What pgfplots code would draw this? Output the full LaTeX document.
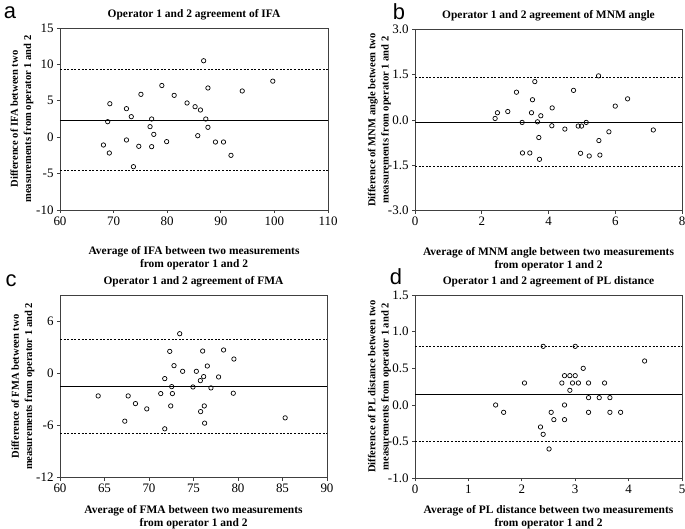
\documentclass[border=0pt]{standalone}
\usepackage{fontspec}
\setmainfont{Liberation Serif}
\newfontfamily\panelfont{Liberation Sans}
\usepackage{pgfplots}
\pgfplotsset{compat=1.18}

\pgfplotsset{
  ba/.style={
    scale only axis, clip=false,
    axis line style={draw=black!75, line width=0.9bp},
    tick align=outside, xtick pos=bottom, ytick pos=left,
    major tick length=3bp,
    tick style={draw=black!75, line width=0.8bp},
    ticklabel style={font=\fontsize{13}{13}\selectfont},
    /pgf/number format/assume math mode=true,
    title style={font=\bfseries\fontsize{11.5}{13}\selectfont, at={(0.5,1)}, anchor=base, yshift=4.5bp},
    xlabel style={font=\bfseries\fontsize{11.5}{12.8}\selectfont, align=center, at={(0.5,0)}, anchor=north},
    ylabel style={font=\bfseries\fontsize{10.6}{13.3}\selectfont, align=center, anchor=center},
  },
  pts/.style={only marks, mark=o, mark size=2.2bp, mark options={line width=0.7bp, draw=black}},
  mean/.style={black, line width=0.9bp},
  loa/.style={black, line width=0.8bp, dash pattern=on 2bp off 1.6bp},
}

\begin{document}
\begin{tikzpicture}
\path[use as bounding box] (0,0) rectangle (685bp,-529bp);

% a
\begin{axis}[ba, at={(60bp,-28bp)}, anchor=north west, width=268bp, height=182bp,
  xmin=60, xmax=110, ymin=-10, ymax=15, xtick={60,70,...,110}, ytick={-10,-5,0,5,10,15},
  yticklabels={-10,-5,0,5,10,15},
  title={Operator 1 and 2 agreement of IFA},
  xlabel={Average of IFA between two measurements\\from operator 1 and 2},
  xlabel style={yshift=-33bp},
  ylabel={Difference of IFA between two\\measurements from operator 1 and 2},
  ylabel style={at={(-0.142,0.5)}}]
\addplot[mean] coordinates {(60,2.3) (110,2.3)};
\addplot[loa] coordinates {(60,9.25) (110,9.25)};
\addplot[loa] coordinates {(60,-4.6) (110,-4.6)};
\addplot[pts] coordinates {
(86.8,10.5) (99.7,7.7) (79.0,7.1) (87.6,6.76) (94.0,6.35) (75.1,5.89)
(81.3,5.75) (69.3,4.6) (83.7,4.7) (85.2,4.19) (86.2,3.74) (72.4,3.92)
(73.3,2.82) (77.1,2.5) (87.2,2.5) (68.9,2.13) (76.8,1.45) (87.6,1.36)
(77.5,0.39) (85.7,0.21) (68.1,-1.07) (72.4,-0.38) (74.7,-1.25) (77.1,-1.3)
(79.9,-0.61) (89.0,-0.66) (90.5,-0.66) (69.2,-2.17) (91.9,-2.49) (73.7,-4.05)};
\end{axis}

% b
\begin{axis}[ba, at={(415bp,-29.3bp)}, anchor=north west, width=267bp, height=181.4bp,
  xmin=0, xmax=8, ymin=-3, ymax=3, xtick={0,2,...,8}, ytick={-3,-1.5,0,1.5,3},
  yticklabels={-3.0,-1.5,0.0,1.5,3.0},
  title={Operator 1 and 2 agreement of MNM angle},
  xlabel={Average of MNM angle between two measurements\\from operator 1 and 2},
  xlabel style={yshift=-33bp},
  ylabel={Difference of MNM angle between two\\measurements from operator 1 and 2},
  ylabel style={at={(-0.133,0.5)}}]
\addplot[mean] coordinates {(0,-0.07) (8,-0.07)};
\addplot[loa] coordinates {(0,1.41) (8,1.41)};
\addplot[loa] coordinates {(0,-1.55) (8,-1.55)};
\addplot[pts] coordinates {
(5.50,1.46) (3.59,1.27) (4.75,0.98) (6.37,0.70) (3.52,0.67) (6.00,0.46)
(4.11,0.40) (3.49,0.24) (3.77,0.14) (3.21,-0.08) (3.67,-0.06) (4.10,-0.19)
(4.49,-0.30) (4.89,-0.20) (4.99,-0.20) (5.13,-0.08) (5.81,-0.39) (3.71,-0.58)
(5.51,-0.68) (3.22,-1.09) (3.44,-1.09) (4.96,-1.10) (5.22,-1.19) (5.54,-1.16)
(3.73,-1.30) (2.40,0.05) (2.47,0.24) (2.78,0.28) (3.04,0.92) (7.14,-0.33)};
\end{axis}

% c
\begin{axis}[ba, at={(60bp,-295bp)}, anchor=north west, width=267bp, height=182.7bp,
  xmin=60, xmax=90, ymin=-12, ymax=9, xtick={60,65,...,90}, ytick={-12,-6,0,6},
  yticklabels={-12,-6,0,6},
  title={Operator 1 and 2 agreement of FMA},
  xlabel={Average of FMA between two measurements\\from operator 1 and 2},
  xlabel style={yshift=-24bp},
  ylabel={Difference of FMA between two\\measurements from operator 1 and 2},
  ylabel style={at={(-0.139,0.5)}}]
\addplot[mean] coordinates {(60,-1.5) (90,-1.5)};
\addplot[loa] coordinates {(60,3.94) (90,3.94)};
\addplot[loa] coordinates {(60,-6.92) (90,-6.92)};
\addplot[pts] coordinates {
(73.45,4.55) (72.33,2.52) (76.03,2.56) (78.38,2.68) (79.54,1.64) (72.81,0.88)
(76.55,0.84) (73.78,0.23) (75.32,0.23) (71.77,-0.61) (76.14,-0.38) (77.82,-0.42)
(75.77,-0.84) (72.55,-1.53) (74.94,-1.57) (76.96,-1.68) (64.29,-2.6) (67.66,-2.6)
(71.32,-2.33) (72.63,-2.33) (79.47,-2.29) (68.48,-3.48) (69.75,-4.09) (72.44,-3.75)
(76.21,-3.75) (75.8,-4.4) (67.28,-5.5) (76.25,-5.73) (85.3,-5.12) (71.77,-6.38)};
\end{axis}

% d
\begin{axis}[ba, at={(415bp,-295bp)}, anchor=north west, width=267bp, height=183.3bp,
  xmin=0, xmax=5, ymin=-1, ymax=1.5, xtick={0,1,...,5}, ytick={-1,-0.5,0,0.5,1,1.5},
  yticklabels={-1.0,-0.5,0.0,0.5,1.0,1.5},
  title={Operator 1 and 2 agreement of PL distance},
  xlabel={Average of PL distance between two measurements\\from operator 1 and 2},
  xlabel style={yshift=-24bp},
  ylabel={Difference of PL distance between two\\measurements from operator 1 and 2},
  ylabel style={at={(-0.133,0.5)}}]
\addplot[mean] coordinates {(0,0.15) (5,0.15)};
\addplot[loa] coordinates {(0,0.80) (5,0.80)};
\addplot[loa] coordinates {(0,-0.50) (5,-0.50)};
\addplot[pts] coordinates {
(1.51,0.0) (1.66,-0.1) (2.05,0.3) (2.35,-0.3) (2.40,0.8) (2.40,-0.4)
(2.51,-0.6) (2.55,-0.1) (2.60,-0.2) (2.75,0.3) (2.80,0.4) (2.80,0.0)
(2.80,-0.2) (2.90,0.4) (2.90,0.2) (2.95,0.3) (3.00,0.8) (3.00,0.4)
(3.06,0.3) (3.15,0.5) (3.25,0.3) (3.25,0.1) (3.25,-0.1) (3.45,0.1)
(3.55,0.3) (3.65,0.1) (3.65,-0.1) (3.85,-0.1) (4.30,0.6)};
\end{axis}

\node[font=\panelfont\fontsize{22}{22}\selectfont, inner sep=0pt] at (10bp,-13bp) {a};
\node[font=\panelfont\fontsize{22}{22}\selectfont, inner sep=0pt] at (399bp,-12bp) {b};
\node[font=\panelfont\fontsize{22}{22}\selectfont, inner sep=0pt] at (11bp,-281bp) {c};
\node[font=\panelfont\fontsize{22}{22}\selectfont, inner sep=0pt] at (396bp,-277bp) {d};
\end{tikzpicture}
\end{document}
